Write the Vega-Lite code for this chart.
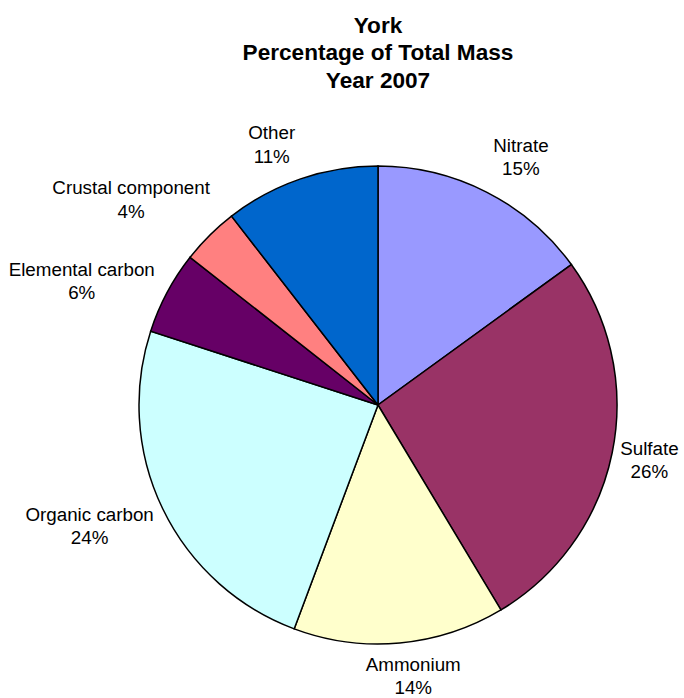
{
  "$schema": "https://vega.github.io/schema/vega-lite/v6.json",
  "width": 480,
  "height": 480,
  "autosize": {"type": "none"},
  "padding": {"left": 138, "top": 165, "right": 66, "bottom": 53},
  "background": "white",
  "config": {
    "text": {"font": "Liberation Sans", "fontSize": 18.8, "lineHeight": 23.5, "align": "center", "baseline": "middle", "color": "black", "dy": -11.75}
  },
  "title": {
    "text": ["York", "Percentage of Total Mass", "Year 2007"],
    "font": "Liberation Sans",
    "fontSize": 22.6,
    "fontWeight": "bold",
    "color": "black",
    "anchor": "middle",
    "offset": 32,
    "lineHeight": 27.5
  },
  "data": {
    "values": [
      {"component": "Nitrate", "share": 15.0, "pct": "15%", "order": 1},
      {"component": "Sulfate", "share": 26.4, "pct": "26%", "order": 2},
      {"component": "Ammonium", "share": 14.3, "pct": "14%", "order": 3},
      {"component": "Organic carbon", "share": 24.3, "pct": "24%", "order": 4},
      {"component": "Elemental carbon", "share": 5.6, "pct": "6%", "order": 5},
      {"component": "Crustal component", "share": 3.9, "pct": "4%", "order": 6},
      {"component": "Other", "share": 10.5, "pct": "11%", "order": 7}
    ]
  },
  "transform": [
    {"stack": "share", "groupby": [], "sort": [{"field": "order", "order": "ascending"}], "as": ["s0", "s1"]},
    {"calculate": "(datum.s0 + datum.s1) / 2", "as": "mid"},
    {"calculate": "[datum.component, datum.pct]", "as": "label"}
  ],
  "layer": [
    {
      "mark": {"type": "arc", "outerRadius": 239, "stroke": "black", "strokeWidth": 1.5},
      "encoding": {
        "theta": {"field": "s0", "type": "quantitative", "scale": {"domain": [0, 100]}},
        "theta2": {"field": "s1"},
        "color": {
          "field": "component",
          "type": "nominal",
          "scale": {
            "domain": ["Nitrate", "Sulfate", "Ammonium", "Organic carbon", "Elemental carbon", "Crustal component", "Other"],
            "range": ["#9999FF", "#993366", "#FFFFCC", "#CCFFFF", "#660066", "#FF8080", "#0066CC"]
          },
          "legend": null
        }
      }
    },
    {
      "transform": [{"filter": "datum.order == 1"}],
      "mark": {"type": "text", "radius": 286, "thetaOffset": 0.052},
      "encoding": {
        "theta": {"field": "mid", "type": "quantitative", "scale": {"domain": [0, 100]}},
        "text": {"field": "label"}
      }
    },
    {
      "transform": [{"filter": "datum.order == 2"}],
      "mark": {"type": "text", "radius": 277},
      "encoding": {
        "theta": {"field": "mid", "type": "quantitative", "scale": {"domain": [0, 100]}},
        "text": {"field": "label"}
      }
    },
    {
      "transform": [{"filter": "datum.order == 3"}],
      "mark": {"type": "text", "radius": 274, "thetaOffset": -0.038},
      "encoding": {
        "theta": {"field": "mid", "type": "quantitative", "scale": {"domain": [0, 100]}},
        "text": {"field": "label"}
      }
    },
    {
      "transform": [{"filter": "datum.order == 4"}],
      "mark": {"type": "text", "radius": 313, "thetaOffset": 0.05},
      "encoding": {
        "theta": {"field": "mid", "type": "quantitative", "scale": {"domain": [0, 100]}},
        "text": {"field": "label"}
      }
    },
    {
      "transform": [{"filter": "datum.order == 5 || datum.order == 6"}],
      "mark": {"type": "text", "radius": 321, "thetaOffset": -0.095},
      "encoding": {
        "theta": {"field": "mid", "type": "quantitative", "scale": {"domain": [0, 100]}},
        "text": {"field": "label"}
      }
    },
    {
      "transform": [{"filter": "datum.order == 7"}],
      "mark": {"type": "text", "radius": 281, "thetaOffset": -0.058},
      "encoding": {
        "theta": {"field": "mid", "type": "quantitative", "scale": {"domain": [0, 100]}},
        "text": {"field": "label"}
      }
    }
  ]
}
